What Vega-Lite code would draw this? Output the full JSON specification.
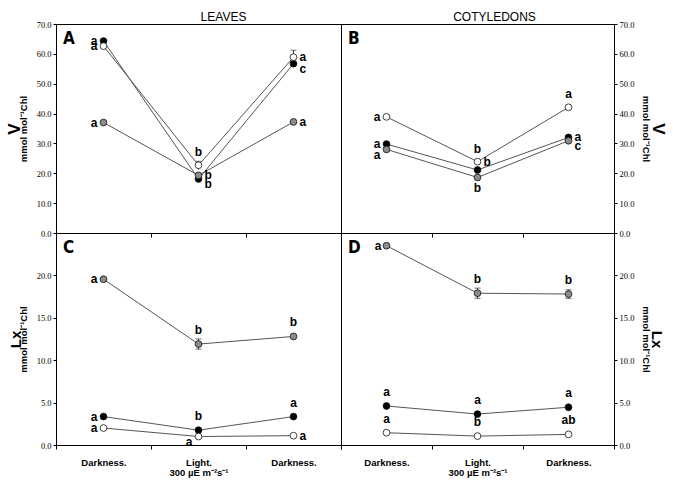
{
  "$schema": "https://vega.github.io/schema/vega-lite/v6.json",
  "background": "white",
  "padding": {"left": 4, "top": 10, "right": 5, "bottom": 5},
  "data": {"values": [
    {"panel":"A","cond":"t1","series":"black","value":64.3,"sig":"a","pos":"left"},
    {"panel":"A","cond":"t2","series":"black","value":18.1,"sig":"b","pos":"rightdown"},
    {"panel":"A","cond":"t3","series":"black","value":56.7,"sig":"c","pos":"rightdown"},
    {"panel":"A","cond":"t1","series":"open","value":62.6,"sig":"a","pos":"left"},
    {"panel":"A","cond":"t2","series":"open","value":22.7,"sig":"b","pos":"above","lo":21.3,"hi":24.0},
    {"panel":"A","cond":"t3","series":"open","value":58.9,"sig":"a","pos":"right","lo":56.6,"hi":61.2},
    {"panel":"A","cond":"t1","series":"gray","value":37.0,"sig":"a","pos":"left"},
    {"panel":"A","cond":"t2","series":"gray","value":19.3,"sig":"b","pos":"right"},
    {"panel":"A","cond":"t3","series":"gray","value":37.2,"sig":"a","pos":"right"},
    {"panel":"B","cond":"t1","series":"open","value":38.9,"sig":"a","pos":"left"},
    {"panel":"B","cond":"t2","series":"open","value":23.9,"sig":"b","pos":"above"},
    {"panel":"B","cond":"t3","series":"open","value":42.1,"sig":"a","pos":"above"},
    {"panel":"B","cond":"t1","series":"black","value":29.8,"sig":"a","pos":"left"},
    {"panel":"B","cond":"t2","series":"black","value":21.1,"sig":"b","pos":"rightup"},
    {"panel":"B","cond":"t3","series":"black","value":32.0,"sig":"a","pos":"right"},
    {"panel":"B","cond":"t1","series":"gray","value":28.0,"sig":"a","pos":"leftdown"},
    {"panel":"B","cond":"t2","series":"gray","value":18.6,"sig":"b","pos":"below"},
    {"panel":"B","cond":"t3","series":"gray","value":30.9,"sig":"c","pos":"rightdown"},
    {"panel":"C","cond":"t1","series":"gray","value":19.55,"sig":"a","pos":"left"},
    {"panel":"C","cond":"t2","series":"gray","value":11.9,"sig":"b","pos":"above","lo":11.3,"hi":12.5},
    {"panel":"C","cond":"t3","series":"gray","value":12.8,"sig":"b","pos":"above"},
    {"panel":"C","cond":"t1","series":"black","value":3.35,"sig":"a","pos":"left"},
    {"panel":"C","cond":"t2","series":"black","value":1.75,"sig":"b","pos":"above"},
    {"panel":"C","cond":"t3","series":"black","value":3.35,"sig":"a","pos":"above"},
    {"panel":"C","cond":"t1","series":"open","value":2.0,"sig":"a","pos":"left"},
    {"panel":"C","cond":"t2","series":"open","value":1.0,"sig":"a","pos":"leftdown"},
    {"panel":"C","cond":"t3","series":"open","value":1.1,"sig":"a","pos":"right"},
    {"panel":"D","cond":"t1","series":"gray","value":23.5,"sig":"a","pos":"left"},
    {"panel":"D","cond":"t2","series":"gray","value":17.9,"sig":"b","pos":"above","lo":17.3,"hi":18.5},
    {"panel":"D","cond":"t3","series":"gray","value":17.8,"sig":"b","pos":"above","lo":17.3,"hi":18.3},
    {"panel":"D","cond":"t1","series":"black","value":4.6,"sig":"a","pos":"above"},
    {"panel":"D","cond":"t2","series":"black","value":3.65,"sig":"a","pos":"above"},
    {"panel":"D","cond":"t3","series":"black","value":4.45,"sig":"a","pos":"above"},
    {"panel":"D","cond":"t1","series":"open","value":1.45,"sig":"a","pos":"above"},
    {"panel":"D","cond":"t2","series":"open","value":1.05,"sig":"b","pos":"above"},
    {"panel":"D","cond":"t3","series":"open","value":1.25,"sig":"ab","pos":"above"}
  ]},
  "concat": [
    {
      "width": 285, "height": 209,
      "title": {"text": "LEAVES", "dx": 25},
      "transform": [{"filter": "datum.panel == 'A'"}],
      "encoding": {
        "x": {"field": "cond", "type": "nominal", "scale": {"type": "band", "paddingInner": 0, "paddingOuter": 0}, "axis": {"title": null, "labels": false, "tickBand": "extent", "tickSize": 4}},
        "y": {"field": "value", "type": "quantitative", "scale": {"domain": [0, 70], "nice": false}, "axis": null}
      },
      "layer": [
        {"transform": [{"filter": "isValid(datum.hi)"}], "mark": {"type": "rule", "color": "#333"}, "encoding": {"y": {"field": "lo", "type": "quantitative", "scale": {"domain": [0, 70], "nice": false}, "axis": null}, "y2": {"field": "hi"}}},
        {"transform": [{"filter": "isValid(datum.hi)"}], "mark": {"type": "tick", "color": "#333", "size": 6, "thickness": 1}, "encoding": {"y": {"field": "hi", "type": "quantitative", "scale": {"domain": [0, 70], "nice": false}, "axis": null}}},
        {"mark": {"type": "line", "color": "#555", "strokeWidth": 1}, "encoding": {"detail": {"field": "series"}, "y": {"field": "value", "type": "quantitative", "scale": {"domain": [0, 70], "nice": false}, "axis": {"orient": "left", "title": "mmol mol⁻¹Chl", "titleFontSize": 9.5, "titleFontWeight": "bold", "titlePadding": 8, "format": ".1f", "values": [0, 10, 20, 30, 40, 50, 60, 70], "tickSize": 3, "labelPadding": 2}}}},
        {"mark": {"type": "circle", "size": 46, "opacity": 1, "stroke": "#111", "strokeWidth": 0.8}, "encoding": {"fill": {"field": "series", "type": "nominal", "scale": {"domain": ["black", "open", "gray"], "range": ["#000000", "#ffffff", "#8c8c8c"]}, "legend": null}, "y": {"field": "value", "type": "quantitative", "scale": {"domain": [0, 70], "nice": false}, "axis": {"orient": "left", "title": "V", "titleFontSize": 17, "titleFontWeight": "bold", "labels": false, "ticks": false, "titlePadding": 33}}}},
        {"transform": [{"filter": "datum.pos == 'left'"}], "mark": {"type": "text", "align": "right", "baseline": "middle", "dx": -6}, "encoding": {"text": {"field": "sig"}}},
        {"transform": [{"filter": "datum.pos == 'leftdown'"}], "mark": {"type": "text", "align": "right", "baseline": "middle", "dx": -6, "dy": 6}, "encoding": {"text": {"field": "sig"}}},
        {"transform": [{"filter": "datum.pos == 'right'"}], "mark": {"type": "text", "align": "left", "baseline": "middle", "dx": 6}, "encoding": {"text": {"field": "sig"}}},
        {"transform": [{"filter": "datum.pos == 'rightdown'"}], "mark": {"type": "text", "align": "left", "baseline": "middle", "dx": 6, "dy": 5}, "encoding": {"text": {"field": "sig"}}},
        {"transform": [{"filter": "datum.pos == 'rightup'"}], "mark": {"type": "text", "align": "left", "baseline": "middle", "dx": 6, "dy": -8}, "encoding": {"text": {"field": "sig"}}},
        {"transform": [{"filter": "datum.pos == 'above'"}], "mark": {"type": "text", "align": "center", "baseline": "bottom", "dy": -6}, "encoding": {"text": {"field": "sig"}}},
        {"transform": [{"filter": "datum.pos == 'below'"}], "mark": {"type": "text", "align": "center", "baseline": "top", "dy": 6}, "encoding": {"text": {"field": "sig"}}},
        {"transform": [{"filter": "datum.cond == 't1' && datum.series == 'black'"}], "mark": {"type": "text", "align": "left", "baseline": "top", "dx": 7, "dy": 7, "font": "DejaVu Sans Condensed, Liberation Sans Narrow, sans-serif", "fontSize": 17, "fontWeight": "bold"}, "encoding": {"x": {"datum": "t1", "bandPosition": 0}, "y": {"datum": 70}, "text": {"field": "panel"}}}
      ],
      "resolve": {"axis": {"y": "independent"}}
    },
    {
      "width": 273, "height": 209,
      "title": {"text": "COTYLEDONS", "dx": 17},
      "transform": [{"filter": "datum.panel == 'B'"}],
      "encoding": {
        "x": {"field": "cond", "type": "nominal", "scale": {"type": "band", "paddingInner": 0, "paddingOuter": 0}, "axis": {"title": null, "labels": false, "tickBand": "extent", "tickSize": 4}},
        "y": {"field": "value", "type": "quantitative", "scale": {"domain": [0, 70], "nice": false}, "axis": null}
      },
      "layer": [
        {"mark": {"type": "line", "color": "#555", "strokeWidth": 1}, "encoding": {"detail": {"field": "series"}, "y": {"field": "value", "type": "quantitative", "scale": {"domain": [0, 70], "nice": false}, "axis": {"orient": "right", "title": "mmol mol⁻¹Chl", "titleFontSize": 9.5, "titleFontWeight": "bold", "titlePadding": 7, "format": ".1f", "values": [0, 10, 20, 30, 40, 50, 60, 70], "tickSize": 3, "labelPadding": 2}}}},
        {"mark": {"type": "circle", "size": 46, "opacity": 1, "stroke": "#111", "strokeWidth": 0.8}, "encoding": {"fill": {"field": "series", "type": "nominal", "scale": {"domain": ["black", "open", "gray"], "range": ["#000000", "#ffffff", "#8c8c8c"]}, "legend": null}, "y": {"field": "value", "type": "quantitative", "scale": {"domain": [0, 70], "nice": false}, "axis": {"orient": "right", "title": "V", "titleFontSize": 17, "titleFontWeight": "bold", "labels": false, "ticks": false, "titlePadding": 34}}}},
        {"transform": [{"filter": "datum.pos == 'left'"}], "mark": {"type": "text", "align": "right", "baseline": "middle", "dx": -6}, "encoding": {"text": {"field": "sig"}}},
        {"transform": [{"filter": "datum.pos == 'leftdown'"}], "mark": {"type": "text", "align": "right", "baseline": "middle", "dx": -6, "dy": 6}, "encoding": {"text": {"field": "sig"}}},
        {"transform": [{"filter": "datum.pos == 'right'"}], "mark": {"type": "text", "align": "left", "baseline": "middle", "dx": 6}, "encoding": {"text": {"field": "sig"}}},
        {"transform": [{"filter": "datum.pos == 'rightdown'"}], "mark": {"type": "text", "align": "left", "baseline": "middle", "dx": 6, "dy": 5}, "encoding": {"text": {"field": "sig"}}},
        {"transform": [{"filter": "datum.pos == 'rightup'"}], "mark": {"type": "text", "align": "left", "baseline": "middle", "dx": 6, "dy": -8}, "encoding": {"text": {"field": "sig"}}},
        {"transform": [{"filter": "datum.pos == 'above'"}], "mark": {"type": "text", "align": "center", "baseline": "bottom", "dy": -6}, "encoding": {"text": {"field": "sig"}}},
        {"transform": [{"filter": "datum.pos == 'below'"}], "mark": {"type": "text", "align": "center", "baseline": "top", "dy": 6}, "encoding": {"text": {"field": "sig"}}},
        {"transform": [{"filter": "datum.cond == 't1' && datum.series == 'black'"}], "mark": {"type": "text", "align": "left", "baseline": "top", "dx": 7, "dy": 7, "font": "DejaVu Sans Condensed, Liberation Sans Narrow, sans-serif", "fontSize": 17, "fontWeight": "bold"}, "encoding": {"x": {"datum": "t1", "bandPosition": 0}, "y": {"datum": 70}, "text": {"field": "panel"}}}
      ],
      "resolve": {"axis": {"y": "independent"}}
    },
    {
      "width": 285, "height": 212,
      "transform": [{"filter": "datum.panel == 'C'"}],
      "encoding": {
        "x": {"field": "cond", "type": "nominal", "scale": {"type": "band", "paddingInner": 0, "paddingOuter": 0}, "axis": {"title": null, "tickBand": "extent", "tickSize": 4, "labelPadding": 8, "labelAngle": 0, "labelBaseline": "top", "labelLineHeight": 10, "labelExpr": "datum.extra ? '' : datum.value == 't2' ? ['Light.', '300 µE m⁻²s⁻¹'] : 'Darkness.'"}},
        "y": {"field": "value", "type": "quantitative", "scale": {"domain": [0, 25], "nice": false}, "axis": null}
      },
      "layer": [
        {"transform": [{"filter": "isValid(datum.hi)"}], "mark": {"type": "rule", "color": "#333"}, "encoding": {"y": {"field": "lo", "type": "quantitative", "scale": {"domain": [0, 25], "nice": false}, "axis": null}, "y2": {"field": "hi"}}},
        {"transform": [{"filter": "isValid(datum.hi)"}], "mark": {"type": "tick", "color": "#333", "size": 6, "thickness": 1}, "encoding": {"y": {"field": "hi", "type": "quantitative", "scale": {"domain": [0, 25], "nice": false}, "axis": null}}},
        {"transform": [{"filter": "isValid(datum.hi)"}], "mark": {"type": "tick", "color": "#333", "size": 6, "thickness": 1}, "encoding": {"y": {"field": "lo", "type": "quantitative", "scale": {"domain": [0, 25], "nice": false}, "axis": null}}},
        {"mark": {"type": "line", "color": "#555", "strokeWidth": 1}, "encoding": {"detail": {"field": "series"}, "y": {"field": "value", "type": "quantitative", "scale": {"domain": [0, 25], "nice": false}, "axis": {"orient": "left", "title": "mmol mol⁻¹Chl", "titleFontSize": 9.5, "titleFontWeight": "bold", "titlePadding": 8, "format": ".1f", "values": [0, 5, 10, 15, 20], "tickSize": 3, "labelPadding": 2}}}},
        {"mark": {"type": "circle", "size": 46, "opacity": 1, "stroke": "#111", "strokeWidth": 0.8}, "encoding": {"fill": {"field": "series", "type": "nominal", "scale": {"domain": ["black", "open", "gray"], "range": ["#000000", "#ffffff", "#8c8c8c"]}, "legend": null}, "y": {"field": "value", "type": "quantitative", "scale": {"domain": [0, 25], "nice": false}, "axis": {"orient": "left", "title": "Lx", "titleFontSize": 15, "titleFontWeight": "bold", "labels": false, "ticks": false, "titlePadding": 33}}}},
        {"transform": [{"filter": "datum.pos == 'left'"}], "mark": {"type": "text", "align": "right", "baseline": "middle", "dx": -6}, "encoding": {"text": {"field": "sig"}}},
        {"transform": [{"filter": "datum.pos == 'leftdown'"}], "mark": {"type": "text", "align": "right", "baseline": "middle", "dx": -6, "dy": 5}, "encoding": {"text": {"field": "sig"}}},
        {"transform": [{"filter": "datum.pos == 'right'"}], "mark": {"type": "text", "align": "left", "baseline": "middle", "dx": 6}, "encoding": {"text": {"field": "sig"}}},
        {"transform": [{"filter": "datum.pos == 'above'"}], "mark": {"type": "text", "align": "center", "baseline": "bottom", "dy": -7}, "encoding": {"text": {"field": "sig"}}},
        {"transform": [{"filter": "datum.cond == 't1' && datum.series == 'black'"}], "mark": {"type": "text", "align": "left", "baseline": "top", "dx": 7, "dy": 7, "font": "DejaVu Sans Condensed, Liberation Sans Narrow, sans-serif", "fontSize": 17, "fontWeight": "bold"}, "encoding": {"x": {"datum": "t1", "bandPosition": 0}, "y": {"datum": 25}, "text": {"field": "panel"}}}
      ],
      "resolve": {"axis": {"y": "independent"}}
    },
    {
      "width": 273, "height": 212,
      "transform": [{"filter": "datum.panel == 'D'"}],
      "encoding": {
        "x": {"field": "cond", "type": "nominal", "scale": {"type": "band", "paddingInner": 0, "paddingOuter": 0}, "axis": {"title": null, "tickBand": "extent", "tickSize": 4, "labelPadding": 8, "labelAngle": 0, "labelBaseline": "top", "labelLineHeight": 10, "labelExpr": "datum.extra ? '' : datum.value == 't2' ? ['Light.', '300 µE m⁻²s⁻¹'] : 'Darkness.'"}},
        "y": {"field": "value", "type": "quantitative", "scale": {"domain": [0, 25], "nice": false}, "axis": null}
      },
      "layer": [
        {"transform": [{"filter": "isValid(datum.hi)"}], "mark": {"type": "rule", "color": "#333"}, "encoding": {"y": {"field": "lo", "type": "quantitative", "scale": {"domain": [0, 25], "nice": false}, "axis": null}, "y2": {"field": "hi"}}},
        {"transform": [{"filter": "isValid(datum.hi)"}], "mark": {"type": "tick", "color": "#333", "size": 6, "thickness": 1}, "encoding": {"y": {"field": "hi", "type": "quantitative", "scale": {"domain": [0, 25], "nice": false}, "axis": null}}},
        {"transform": [{"filter": "isValid(datum.hi)"}], "mark": {"type": "tick", "color": "#333", "size": 6, "thickness": 1}, "encoding": {"y": {"field": "lo", "type": "quantitative", "scale": {"domain": [0, 25], "nice": false}, "axis": null}}},
        {"mark": {"type": "line", "color": "#555", "strokeWidth": 1}, "encoding": {"detail": {"field": "series"}, "y": {"field": "value", "type": "quantitative", "scale": {"domain": [0, 25], "nice": false}, "axis": {"orient": "right", "title": "mmol mol⁻¹Chl", "titleFontSize": 9.5, "titleFontWeight": "bold", "titlePadding": 7, "format": ".1f", "values": [0, 5, 10, 15, 20], "tickSize": 3, "labelPadding": 2}}}},
        {"mark": {"type": "circle", "size": 46, "opacity": 1, "stroke": "#111", "strokeWidth": 0.8}, "encoding": {"fill": {"field": "series", "type": "nominal", "scale": {"domain": ["black", "open", "gray"], "range": ["#000000", "#ffffff", "#8c8c8c"]}, "legend": null}, "y": {"field": "value", "type": "quantitative", "scale": {"domain": [0, 25], "nice": false}, "axis": {"orient": "right", "title": "Lx", "titleFontSize": 15, "titleFontWeight": "bold", "labels": false, "ticks": false, "titlePadding": 34}}}},
        {"transform": [{"filter": "datum.pos == 'left'"}], "mark": {"type": "text", "align": "right", "baseline": "middle", "dx": -5}, "encoding": {"text": {"field": "sig"}}},
        {"transform": [{"filter": "datum.pos == 'above'"}], "mark": {"type": "text", "align": "center", "baseline": "bottom", "dy": -7}, "encoding": {"text": {"field": "sig"}}},
        {"transform": [{"filter": "datum.cond == 't1' && datum.series == 'black'"}], "mark": {"type": "text", "align": "left", "baseline": "top", "dx": 7, "dy": 7, "font": "DejaVu Sans Condensed, Liberation Sans Narrow, sans-serif", "fontSize": 17, "fontWeight": "bold"}, "encoding": {"x": {"datum": "t1", "bandPosition": 0}, "y": {"datum": 25}, "text": {"field": "panel"}}}
      ],
      "resolve": {"axis": {"y": "independent"}}
    }
  ],
  "columns": 2,
  "spacing": 0,
  "bounds": "flush",
  "config": {
    "font": "Liberation Sans",
    "view": {"stroke": "#000", "strokeWidth": 1},
    "axis": {"grid": false, "domain": false, "labelFont": "Liberation Serif", "labelFontSize": 8.5, "labelColor": "#000", "tickColor": "#000", "titleColor": "#000", "titleFont": "Liberation Sans"},
    "axisX": {"labelFont": "Liberation Sans", "labelFontWeight": "bold", "labelFontSize": 9.5},
    "title": {"font": "Liberation Sans", "fontSize": 12, "fontWeight": "normal", "color": "#000", "offset": -4},
    "text": {"font": "Liberation Sans", "fontWeight": "bold", "fontSize": 12, "color": "#000"}
  }
}
